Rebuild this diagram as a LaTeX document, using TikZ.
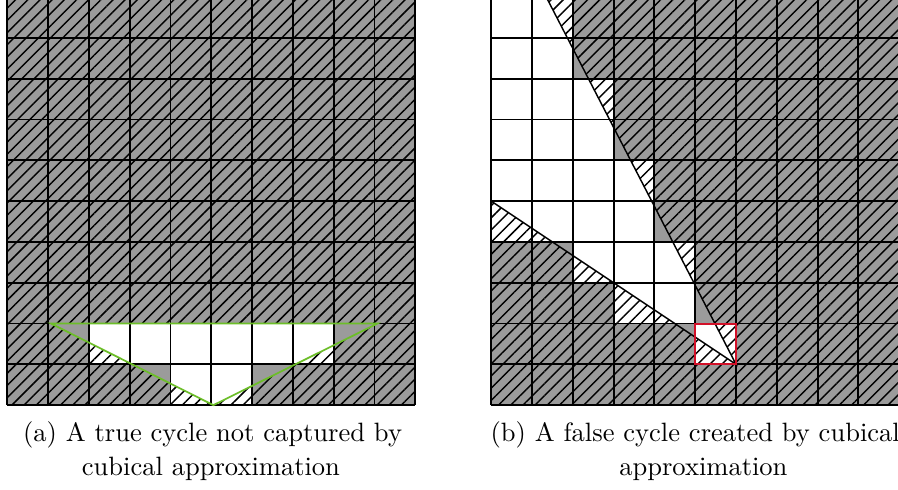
\documentclass[tikz,border=0pt]{standalone}
\usetikzlibrary{patterns.meta}
\definecolor{cellgray}{RGB}{155,155,155}
\definecolor{cyclegreen}{RGB}{108,190,40}
\definecolor{cubered}{RGB}{210,16,40}

\begin{document}
\begin{tikzpicture}[x=1cm, y=1cm,
    gridline/.style={black, line width=1.3pt},
    hatched/.style={pattern={Lines[angle=45, distance=6pt, line width=1pt]}},
    greencycle/.style={cyclegreen, line width=1.2pt},
    edgeline/.style={black, line width=1pt},
    caption/.style={anchor=base, inner sep=0pt, scale=1.85, font=\fontsize{10}{12}\selectfont}]
  \useasboundingbox (-0.18,-2.08) rectangle (21.83,9.93);
  \clip (-0.18,-2.08) rectangle (21.83,9.93);

  % (a) true cycle
  \coordinate (tl) at (1.07,2);
  \coordinate (tr) at (9.07,2);
  \coordinate (tb) at (5.05,0);
  \fill[cellgray] (0,0) rectangle (10,10);
  \fill[white] (2,1) rectangle (8,2) (4,0) rectangle (6,1);
  \fill[hatched, even odd rule] (0,0) rectangle (10,10) (tl) -- (tr) -- (tb) -- cycle;
  \draw[gridline] (0,0) grid (10,10);
  \draw[greencycle] (tl) -- (tr) -- (tb) -- cycle;

  % (b) false cycle
  \begin{scope}[xshift=11.86cm]
    \coordinate (apex) at (6,1);
    \coordinate (steep) at (1.35,10);
    \coordinate (flat) at (0,5);
    \fill[cellgray] (0,0) rectangle (10,10);
    \foreach \row/\from/\to in {9/0/2, 8/0/2, 7/0/3, 6/0/3, 5/0/4, 4/0/4, 3/2/5, 2/3/5, 1/5/6}
      \fill[white] (\from,\row) rectangle (\to,\row+1);
    \fill[hatched, even odd rule] (0,0) rectangle (10,10) (flat) -- (apex) -- (steep) -- (0,10) -- cycle;
    \draw[gridline] (0,0) grid (10,10);
    \draw[edgeline] (flat) -- (apex) -- (steep);
    \draw[cubered, line width=1.4pt] (5,1) rectangle (6,2);
  \end{scope}

  \node[caption] (capa1) at (5.03,-0.90) {(a) A true cycle not captured by};
  \node[caption] (capa2) at (4.99,-1.72) {cubical approximation};
  \node[caption] (capb1) at (16.86,-0.90) {(b) A false cycle created by cubical};
  \node[caption] (capb2) at (17.06,-1.72) {approximation};
\end{tikzpicture}
\end{document}
